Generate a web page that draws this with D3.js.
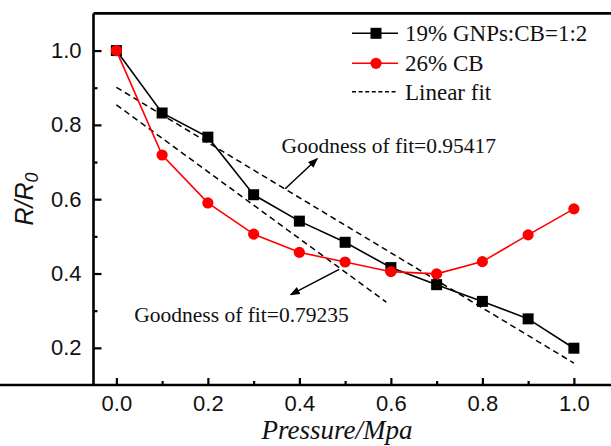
<!DOCTYPE html>
<html>
<head>
<meta charset="utf-8">
<script src="https://cdn.jsdelivr.net/npm/d3@7"></script>
<style>
  body { margin: 0; background: #fff; }
  svg { display: block; }
</style>
</head>
<body>
<svg id="chart" width="611" height="446"></svg>
<script>
// values
const pressure = [0, 0.1, 0.2, 0.3, 0.4, 0.5, 0.6, 0.7, 0.8, 0.9, 1.0];
const gnpsCb = [1.0, 0.832, 0.767, 0.612, 0.541, 0.484, 0.416, 0.370, 0.325, 0.278, 0.199];
const cb26 = [1.0, 0.719, 0.590, 0.506, 0.457, 0.431, 0.405, 0.399, 0.432, 0.504, 0.574];

// linear fits: [intercept, slope, xStart, xEnd]
const fitGnps = [0.901, -0.742, 0, 1.0];
const fitCb = [0.854, -0.90, 0, 0.59];

const xTicks = [0, 0.2, 0.4, 0.6, 0.8, 1.0];
const yTicks = [0.2, 0.4, 0.6, 0.8, 1.0];
const legendLabels = ["19% GNPs:CB=1:2", "26% CB", "Linear fit"];

// annotations in data units: text [x, y], arrow [x1, y1, x2, y2]
const notes = [
  { text: "Goodness of fit=0.95417", at: [0.361, 0.725], arrow: [0.369, 0.628, 0.439, 0.709] },
  { text: "Goodness of fit=0.79235", at: [0.039, 0.269], arrow: [0.487, 0.411, 0.381, 0.343] }
];

const svg = d3.select("#chart");
const plotLeft = 93.5, plotTop = 13.4, plotBottom = 385;

const x = d3.scaleLinear().domain([-0.05, 1.1]).range([plotLeft, plotLeft + 1.15 * 457.5]);
const y = d3.scaleLinear().domain([0.1, 1.1]).range([plotBottom, plotTop]);

const serif = "'Liberation Serif', 'Times New Roman', serif";
const sans = "'Liberation Sans', Arial, sans-serif";

svg.append("defs").append("marker")
  .attr("id", "head")
  .attr("viewBox", "0 0 10 10")
  .attr("refX", 9).attr("refY", 5)
  .attr("markerWidth", 10).attr("markerHeight", 10)
  .attr("markerUnits", "userSpaceOnUse")
  .attr("orient", "auto")
  .append("path").attr("d", "M0,1 L10,5 L0,9 Z").attr("fill", "#000");

// axes, ticks pointing inward
const xAxis = svg.append("g").attr("transform", `translate(0,${plotBottom})`)
  .call(d3.axisBottom(x).tickValues(xTicks).tickSize(-7).tickPadding(10).tickFormat(d3.format(".1f")));
svg.append("g").attr("transform", `translate(0,${plotBottom})`)
  .call(d3.axisBottom(x).tickValues(d3.range(0.1, 1.0, 0.2)).tickSize(-4).tickFormat(""))
  .select(".domain").remove();

const yAxis = svg.append("g").attr("transform", `translate(${plotLeft},0)`)
  .call(d3.axisLeft(y).tickValues(yTicks).tickSize(-8).tickPadding(12).tickFormat(d3.format(".1f")));
svg.append("g").attr("transform", `translate(${plotLeft},0)`)
  .call(d3.axisLeft(y).tickValues([0.3, 0.5, 0.7, 0.9]).tickSize(-4).tickFormat(""))
  .select(".domain").remove();

svg.selectAll(".domain").attr("stroke-width", 2.6);
xAxis.select(".domain").attr("d", `M0,0H611`);
yAxis.select(".domain").attr("d", `M0,${plotBottom}V${plotTop}`);
svg.selectAll(".tick line").attr("stroke-width", 2.2);
svg.selectAll(".tick text").attr("font-family", sans).attr("font-size", 22).attr("fill", "#111");

// top frame line
svg.append("line")
  .attr("x1", plotLeft).attr("x2", 611).attr("y1", y(1.1)).attr("y2", y(1.1))
  .attr("stroke", "#000").attr("stroke-width", 2.6);

// fit lines
[fitGnps, fitCb].forEach(f => {
  svg.append("line")
    .attr("x1", x(f[2])).attr("y1", y(f[0] + f[1] * f[2]))
    .attr("x2", x(f[3])).attr("y2", y(f[0] + f[1] * f[3]))
    .attr("stroke", "#000").attr("stroke-width", 1.5)
    .attr("stroke-dasharray", "6,4");
});

const line = d3.line().x(d => x(d[0])).y(d => y(d[1]));
const gData = pressure.map((p, i) => [p, gnpsCb[i]]);
const cData = pressure.map((p, i) => [p, cb26[i]]);

svg.append("path").datum(gData).attr("d", line)
  .attr("fill", "none").attr("stroke", "#000").attr("stroke-width", 1.6);
svg.selectAll(".sq").data(gData).join("rect").attr("class", "sq")
  .attr("x", d => x(d[0]) - 5.5).attr("y", d => y(d[1]) - 5.5)
  .attr("width", 11).attr("height", 11).attr("fill", "#000");

svg.append("path").datum(cData).attr("d", line)
  .attr("fill", "none").attr("stroke", "#f00").attr("stroke-width", 1.6);
svg.selectAll(".dot").data(cData).join("circle").attr("class", "dot")
  .attr("cx", d => x(d[0])).attr("cy", d => y(d[1])).attr("r", 5.6).attr("fill", "#f00");

// annotations
notes.forEach(n => {
  svg.append("text")
    .attr("x", x(n.at[0])).attr("y", y(n.at[1]))
    .attr("font-family", serif).attr("font-size", 21.5).attr("fill", "#111")
    .text(n.text);
  svg.append("line")
    .attr("x1", x(n.arrow[0])).attr("y1", y(n.arrow[1]))
    .attr("x2", x(n.arrow[2])).attr("y2", y(n.arrow[3]))
    .attr("stroke", "#000").attr("stroke-width", 1.5)
    .attr("marker-end", "url(#head)");
});

// legend
const leg = svg.append("g");
const rows = [33.3, 63.3, 91.7];
legendLabels.forEach((lab, i) => {
  const ly = rows[i];
  const ln = leg.append("line")
    .attr("x1", 352).attr("x2", 398).attr("y1", ly).attr("y2", ly)
    .attr("stroke-width", 1.6);
  if (i === 0) {
    ln.attr("stroke", "#000");
    leg.append("rect").attr("x", 376 - 5.5).attr("y", ly - 5.5).attr("width", 11).attr("height", 11).attr("fill", "#000");
  } else if (i === 1) {
    ln.attr("stroke", "#f00");
    leg.append("circle").attr("cx", 376).attr("cy", ly).attr("r", 5.6).attr("fill", "#f00");
  } else {
    ln.attr("stroke", "#000").attr("stroke-dasharray", "4,2.6").attr("stroke-width", 1.4);
  }
  leg.append("text")
    .attr("x", 405).attr("y", ly + 8)
    .attr("font-family", serif).attr("font-size", 23).attr("fill", "#111")
    .text(lab);
});

// axis titles
svg.append("text")
  .attr("x", 337).attr("y", 439)
  .attr("text-anchor", "middle")
  .attr("font-family", serif).attr("font-style", "italic").attr("font-size", 27).attr("fill", "#111")
  .text("Pressure/Mpa");

const yt = svg.append("text")
  .attr("transform", "translate(33,199) rotate(-90)")
  .attr("text-anchor", "middle")
  .attr("font-family", sans).attr("font-style", "italic").attr("font-size", 25).attr("fill", "#111");
yt.append("tspan").text("R/R");
yt.append("tspan").attr("font-size", 18).attr("dy", 5).text("0");
</script>
</body>
</html>
